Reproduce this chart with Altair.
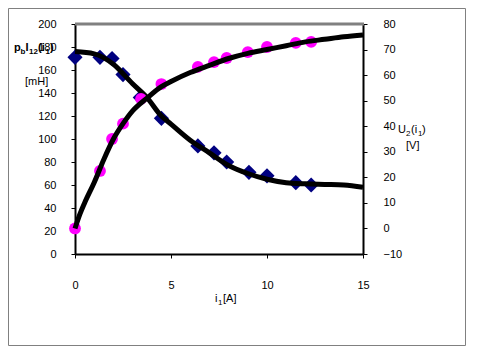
import altair as alt
import pandas as pd

# Measured points
i_L = [0, 1.3, 1.93, 2.5, 3.4, 4.5, 6.4, 7.24, 7.9, 9.06, 10.0, 11.5, 12.3]
L_vals = [171, 171, 170, 156, 136, 118, 94, 88, 80, 71, 68, 62, 60]

i_U = [0, 1.3, 1.93, 2.5, 3.44, 4.5, 6.4, 7.24, 7.9, 9.0, 10.0, 11.5, 12.3]
U_vals = [0, 22.5, 35, 41, 50.7, 56.5, 63.2, 65.1, 66.7, 69, 71, 72.6, 73]

# Fitted curves
i_Lc = [0, 1, 2, 3, 3.75, 4.5, 5, 6, 7, 8, 9, 10, 11, 12, 13, 14, 15]
L_curve = [176, 174, 165, 148, 136, 120, 113, 99, 88, 77, 70, 65, 62, 61, 60.5, 60, 58]

i_Uc = [0, 0.25, 0.5, 1, 1.5, 2, 2.5, 3, 3.75, 4.5, 5, 6, 7, 8, 9, 10, 11, 12, 13, 14, 15]
U_curve = [0, 5.5, 10, 18, 27, 35, 41, 46, 51, 55.5, 57.5, 61, 63.8, 66.5, 68.5, 70, 71.5, 73, 74, 75, 75.7]

x_ticks = [0, 5, 10, 15]
left_ticks = [0, 20, 40, 60, 80, 100, 120, 140, 160, 180, 200]
right_ticks = [-10, 0, 10, 20, 30, 40, 50, 60, 70, 80]

W, H = 288, 230
FONT = "Liberation Sans"

dfL = pd.DataFrame({"i": i_L, "v": L_vals})
dfU = pd.DataFrame({"i": i_U, "v": U_vals})
dfLc = pd.DataFrame({"i": i_Lc, "v": L_curve})
dfUc = pd.DataFrame({"i": i_Uc, "v": U_curve})

common_axis = dict(title=None, grid=False, domainColor="black", domainWidth=2,
                   tickColor="black", tickSize=4, tickWidth=1, labelFont=FONT,
                   labelFontSize=11, labelColor="black", labelOverlap=False,
                   labelBound=False, labelFlush=False)

xscale = alt.Scale(domain=[0, 15], nice=False, zero=False)
xaxis = alt.Axis(values=x_ticks, labelPadding=21, **common_axis)
lscale = alt.Scale(domain=[0, 200], nice=False)
laxis = alt.Axis(values=left_ticks, labelPadding=15, **common_axis)
rscale = alt.Scale(domain=[-10, 80], nice=False, zero=False)
raxis = alt.Axis(values=right_ticks, orient="right", labelPadding=16, **common_axis)

X = alt.X("i:Q", scale=xscale, axis=xaxis)
YL = alt.Y("v:Q", scale=lscale, axis=laxis)
YR = alt.Y("v:Q", scale=rscale, axis=raxis)

left_pts = alt.Chart(dfL).mark_point(shape="diamond", filled=True, color="#000080",
                                     size=230, opacity=1).encode(x=X, y=YL)
left_line = alt.Chart(dfLc).mark_line(color="black", strokeWidth=5,
                                      interpolate="monotone").encode(x=X, y=YL)
left = alt.layer(left_pts, left_line)

right_pts = alt.Chart(dfU).mark_circle(color="#FF00FF", size=140, opacity=1).encode(x=X, y=YR)
right_line = alt.Chart(dfUc).mark_line(color="black", strokeWidth=5,
                                       interpolate="monotone").encode(x=X, y=YR)
right = alt.layer(right_pts, right_line)

one = pd.DataFrame({"a": [0]})

top_rule = alt.Chart(one).mark_rule(color="#808080", strokeWidth=3).encode(
    x=alt.value(0), x2=alt.value(W + 1), y=alt.value(0))
frame = alt.Chart(one).mark_rect(fill=None, stroke="#808080", strokeWidth=1).encode(
    x=alt.value(-66.5), x2=alt.value(390.5), y=alt.value(-15.5), y2=alt.value(321.5))


def txt(s, x, y, size=11, align="left", weight="normal"):
    return alt.Chart(one).mark_text(text=s, font=FONT, fontSize=size, align=align,
                                    baseline="middle", color="black",
                                    fontWeight=weight).encode(
        x=alt.value(x), y=alt.value(y))


B = "bold"
lt = [
    txt("p", -61, 24, weight=B),
    txt("b", -54.5, 28, 8, weight=B),
    txt("I", -49.5, 24, weight=B),
    txt("12", -46, 28, 8, weight=B),
    txt("(i", -37, 24, weight=B),
    txt("1", -29.5, 28, 8, weight=B),
    txt(")", -25, 24, weight=B),
    txt("[mH]", -50, 58),
]
rt = [
    txt("U", 323, 106),
    txt("2", 331, 110, 8),
    txt("(i", 336, 106),
    txt("1", 343, 110, 8),
    txt(")", 347, 106),
    txt("[V]", 331, 122),
]
xt = [
    txt("i", 140, 275),
    txt("1", 143, 279, 8),
    txt("[A]", 148, 275),
]

chart = alt.layer(
    frame, left, right, top_rule, *lt, *rt, *xt
).resolve_scale(y="independent").properties(
    width=W, height=H,
    padding={"left": 67, "top": 16, "right": 104, "bottom": 92},
    autosize=alt.AutoSizeParams(type="none"),
).configure_view(stroke=None).configure_axis(labelOverlap=False).configure(background="white")

chart.save("out.html", embed_options={"renderer": "svg", "actions": False})
